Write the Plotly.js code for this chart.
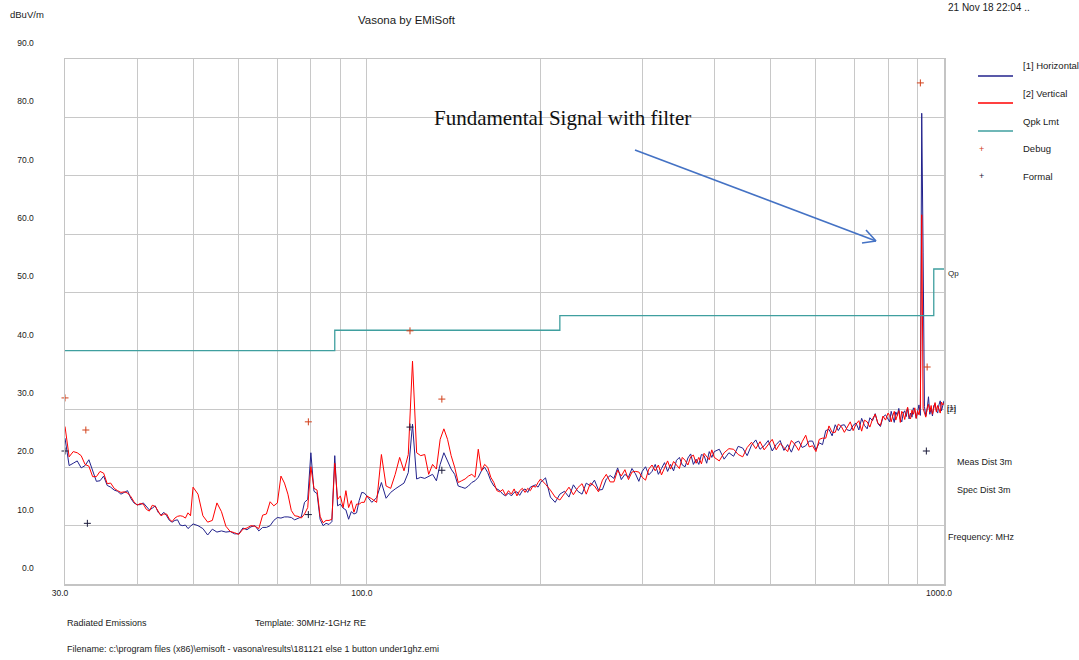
<!DOCTYPE html>
<html>
<head>
<meta charset="utf-8">
<script src="https://cdn.plot.ly/plotly-3.0.1.min.js"></script>
<style>html,body{margin:0;padding:0;background:#fff;}#chart{width:1079px;height:660px;}</style>
</head>
<body>
<div id="chart"></div>
<script>
// ---------------- data ----------------
const freqMHz = [
  30,30.5,31,31.5,32,32.5,33,33.5,34,34.5,35,35.5,36,36.5,37,37.5,38,38.5,39,39.5,
  40,40.5,41,41.5,42,42.5,43,43.5,44,44.5,45,45.5,46,46.5,47,47.5,48,48.5,49,49.5,50,
  51,52,53,54,55,56,57,58,59,60,61,62,63,64,65,66,67,68,69,70,
  71,72,73,74,75,76,77,78,79,80,81,82,83,84,85,86,87,88,89,90,
  91,92,93,94,95,96,97,98,99,100,
  102,104,106,108,110,112,114,116,118,120,122,124,126,128,130,132,134,136,138,140,
  142,144,146,148,150,152,154,156,158,160,162,164,166,168,170,172,174,176,178,180,
  182,184,186,188,190,192,194,196,198,200,
  204,208,212,216,220,224,228,232,236,240,244,248,252,256,260,264,268,272,276,280,
  284,288,292,296,300,304,308,312,316,320,324,328,332,336,340,344,348,352,356,360,
  364,368,372,376,380,384,388,392,396,400,
  408,416,424,432,440,448,456,464,472,480,488,496,504,512,520,528,536,544,552,560,
  568,576,584,592,600,608,616,624,632,640,648,656,664,672,680,688,696,704,712,720,
  728,736,744,752,760,768,776,784,792,800,
  805,810,815,820,825,830,835,840,845,850,855,860,865,870,875,880,885,890,895,900,
  905,910,915,920,925,930,935,940,945,950,955,960,965,970,975,980,985,990,995,1000
];
const horizontalDb = [
  25.0,20.3,20.7,21.1,19.9,20.3,21.3,19.4,17.6,17.7,18.5,16.9,16.6,16.1,15.9,15.4,15.7,16.0,14.7,13.9,
  13.6,13.6,13.9,13.2,12.7,13.0,13.4,12.3,11.8,12.3,11.7,10.9,10.6,10.9,11.0,10.1,10.0,10.1,9.5,9.9,10.3,
  10.0,9.5,8.4,9.4,8.9,9.1,8.9,9.0,8.6,8.6,9.6,9.3,9.8,10.0,9.1,9.7,9.7,10.0,10.9,11.4,
  11.3,11.5,11.5,11.4,11.0,11.3,11.5,14.0,14.5,22.5,15.9,15.5,11.1,10.0,10.4,10.2,10.7,22.0,13.4,13.7,
  13.0,12.7,11.1,12.4,12.0,12.2,14.3,15.7,15.6,15.1,
  14.0,14.8,17.4,14.7,15.7,16.3,16.8,17.3,19.1,27.4,18.0,18.3,18.1,18.5,18.8,17.7,20.5,22.5,21.1,19.7,
  18.8,16.8,16.6,16.4,16.8,17.4,17.7,18.3,19.4,20.0,19.1,17.7,16.8,16.3,16.0,15.4,15.1,15.6,15.1,15.7,
  15.8,15.2,16.0,16.3,15.7,16.6,16.8,17.0,16.6,17.4,
  18.2,14.9,14.0,15.4,15.9,14.9,17.0,15.9,15.4,17.3,16.8,17.8,16.1,16.2,18.0,18.6,18.1,19.9,17.9,18.8,
  18.3,19.8,18.9,17.6,19.3,20.1,18.7,19.3,20.5,18.8,19.8,20.8,19.3,20.5,19.4,21.2,21.7,20.4,20.1,21.6,
  22.3,20.5,21.4,20.5,22.2,22.0,20.7,22.7,21.7,22.7,
  23.1,21.4,22.5,21.9,23.6,23.3,22.0,23.8,24.7,23.1,23.7,24.6,22.8,23.9,24.6,22.9,23.9,22.6,24.2,24.5,
  23.4,23.7,24.5,24.5,23.0,24.2,23.9,26.3,26.5,25.4,27.3,26.3,27.2,27.3,26.4,26.3,27.2,27.6,26.4,28.4,
  27.2,26.6,28.5,28.0,29.2,27.5,27.0,28.6,29.0,28.1,
  27.8,29.6,28.4,27.7,29.5,28.9,30.1,28.3,27.8,29.3,29.7,28.7,30.1,28.3,29.3,28.6,30.2,29.7,28.4,29.9,
  30.7,28.9,80.7,56.9,30.4,28.8,30.0,32.1,29.1,30.1,28.8,30.6,30.9,29.7,29.3,30.7,31.4,29.7,30.6,31.4
];
const verticalDb = [
  27.0,21.8,22.7,22.5,22.0,20.5,20.2,18.4,18.4,19.3,19.0,17.2,17.3,16.4,16.0,15.7,15.8,15.6,15.0,14.1,
  13.5,13.8,13.7,12.8,12.5,13.5,13.3,12.4,11.7,12.0,12.0,11.1,10.7,11.3,11.6,11.7,11.6,11.3,12.2,11.7,16.6,
  15.4,11.7,10.6,10.9,13.9,12.4,9.9,9.0,8.8,8.5,9.4,9.6,10.0,9.9,9.5,11.8,12.0,14.1,13.4,13.9,
  18.5,17.3,15.4,12.6,11.7,11.6,11.3,12.0,13.1,20.1,16.4,16.1,11.6,10.5,10.9,10.9,11.1,20.7,14.5,15.1,
  13.1,16.0,13.1,14.3,12.3,13.7,13.7,14.0,14.0,15.1,
  14.6,14.0,22.2,16.8,16.4,18.8,21.7,19.4,22.2,38.2,22.5,22.0,22.2,18.8,20.5,19.7,24.8,26.6,24.8,22.0,
  20.0,17.4,17.7,18.0,18.5,18.8,18.3,23.1,19.4,20.5,20.0,18.3,17.4,16.0,15.8,16.2,15.2,16.0,15.4,16.3,
  15.1,16.0,16.4,15.7,16.4,16.0,16.8,16.6,17.4,18.0,
  17.1,16.1,14.9,14.4,15.5,16.6,15.3,16.5,17.2,15.4,17.3,16.8,15.8,17.8,18.8,17.5,17.5,19.5,18.5,19.6,
  17.9,19.2,19.3,19.2,18.3,17.8,19.7,20.4,19.4,20.4,18.7,20.0,21.1,19.7,21.0,20.4,19.8,21.7,21.2,20.4,
  21.8,22.1,20.7,21.7,20.6,22.4,21.9,21.3,23.0,21.7,
  21.1,22.5,23.2,23.1,22.2,21.8,23.4,24.3,23.2,24.4,23.0,24.0,24.8,23.0,24.1,23.4,22.7,24.6,23.9,22.9,
  24.4,25.5,23.5,23.7,22.7,24.8,25.0,25.0,27.1,26.0,26.0,27.4,27.0,26.0,27.0,27.8,26.3,27.4,28.0,26.2,
  28.1,27.8,26.9,28.3,29.1,27.6,27.2,28.8,28.1,29.3,
  28.9,27.8,28.8,29.6,28.1,29.1,29.7,27.7,29.6,29.2,28.2,29.5,30.3,28.7,28.3,29.8,29.1,30.2,28.4,29.7,
  29.0,30.5,63.3,30.1,29.1,28.6,30.1,30.8,29.5,30.6,29.1,30.2,31.1,29.5,30.6,30.0,29.3,31.2,30.7,31.0
];
const limitFreq = [30, 88, 88, 216, 216, 960, 960, 1000];
const limitDb   = [40, 40, 43.5, 43.5, 46, 46, 54, 54];
const debugFreq = [30, 32.6, 79.2, 118.8, 134.9, 910, 935];
const debugDb   = [31.9, 26.4, 27.8, 43.4, 31.7, 85.9, 37.2];
const formalFreq = [30, 32.8, 79.2, 118.8, 134.9, 932];
const formalDb   = [22.8, 10.4, 11.9, 26.9, 19.5, 22.8];
const xTickVals = [30,40,50,60,70,80,90,100,200,300,400,500,600,700,800,900,1000];
const xTickText = ["30.0","","","","","","","100.0","","","","","","","","","1000.0"];
const yTickVals = [0,10,20,30,40,50,60,70,80,90];
const yTickText = ["0.0","10.0","20.0","30.0","40.0","50.0","60.0","70.0","80.0","90.0"];
const legendNames = ["[1] Horizontal","[2] Vertical","Qpk Lmt","Debug","Formal"];

// ---------------- styling ----------------
const BLUE = '#22228c', RED = '#ff0000', TEAL = '#3f9f9f', DEBUGC = '#d2401a', FORMALC = '#1a1a3a';
const FONT = 'Liberation Sans, Arial, sans-serif';
const TXT = '#1a1a1a';
const L = 65, R = 944, T = 59, B = 584; // plot box in pixels
const X = px => (px - L) / (R - L);
const Y = py => (B - py) / (B - T);

const traces = [
  {x: freqMHz, y: horizontalDb, type: 'scatter', mode: 'lines', name: legendNames[0],
   line: {color: BLUE, width: 1}},
  {x: freqMHz, y: verticalDb, type: 'scatter', mode: 'lines', name: legendNames[1],
   line: {color: RED, width: 1}},
  {x: limitFreq, y: limitDb, type: 'scatter', mode: 'lines', name: legendNames[2],
   line: {color: TEAL, width: 1.3}},
  {x: debugFreq, y: debugDb, type: 'scatter', mode: 'markers', name: legendNames[3], cliponaxis: false,
   marker: {symbol: 'cross-thin', size: 5, line: {color: DEBUGC, width: 1}}},
  {x: formalFreq, y: formalDb, type: 'scatter', mode: 'markers', name: legendNames[4], cliponaxis: false,
   marker: {symbol: 'cross-thin', size: 5, line: {color: FORMALC, width: 1}}}
];

function txt(text, px, py, size, anchor, extra) {
  return Object.assign({text: text, xref: 'paper', yref: 'paper', x: X(px), y: Y(py),
    xanchor: anchor || 'left', yanchor: 'middle', showarrow: false,
    font: {family: FONT, size: size || 9, color: TXT}}, extra || {});
}

const annotations = [
  txt('dBuV/m', 8, 14, 9.5),
  txt('Vasona by EMiSoft', 407, 20, 11.5, 'center'),
  txt('21 Nov 18 22:04 ..', 946, 7, 10),
  // legend texts
  txt(legendNames[0], 1021, 65, 9.5),
  txt(legendNames[1], 1021, 93, 9.5),
  txt(legendNames[2], 1021, 121, 9.5),
  txt(legendNames[3], 1021, 148, 9.5),
  txt(legendNames[4], 1021, 176, 9.5),
  txt('+', 981, 149, 9, 'center', {font: {family: FONT, size: 9, color: DEBUGC}}),
  txt('+', 981, 176, 9, 'center', {font: {family: FONT, size: 9, color: FORMALC}}),
  // right side notes
  txt('Qp', 946, 273, 8, 'left', {font: {family: FONT, size: 8, color: '#222'}}),
  txt('[1]', 945, 407, 8),
  txt('[2]', 945, 409, 8),
  txt('Meas Dist 3m', 955, 462, 9),
  txt('Spec Dist 3m', 955, 490, 9),
  txt('Frequency: MHz', 946, 537, 9),
  // footer
  txt('Radiated Emissions', 65, 623, 9),
  txt('Template: 30MHz-1GHz RE', 253, 623, 9),
  txt('Filename: c:\\program files (x86)\\emisoft - vasona\\results\\181121 else 1 button under1ghz.emi', 65, 649, 9),
  // callout
  txt('Fundamental Signal with filter', 432, 118, 21, 'left',
      {font: {family: 'Liberation Serif, Times New Roman, serif', size: 21, color: '#111'}})
];

function seg(x0, y0, x1, y1, color, w) {
  return {type: 'line', xref: 'paper', yref: 'paper', x0: X(x0), y0: Y(y0), x1: X(x1), y1: Y(y1),
          line: {color: color, width: w}};
}
const ARROW = '#4472c4';
const shapes = [
  seg(978, 76, 1013, 76, BLUE, 1.5),
  seg(978, 103, 1013, 103, RED, 1.5),
  seg(978, 131, 1013, 131, TEAL, 1.5),
  seg(635, 150, 876, 241, ARROW, 1.6),
  seg(876, 241, 866, 230, ARROW, 1.6),
  seg(876, 241, 862, 243, ARROW, 1.6)
];

const layout = {
  width: 1079, height: 660,
  margin: {l: L, r: 1079 - R, t: T, b: 660 - B, pad: 0},
  paper_bgcolor: '#ffffff', plot_bgcolor: '#ffffff',
  showlegend: false,
  font: {family: FONT, size: 9, color: TXT},
  xaxis: {
    type: 'log', range: [Math.log10(30), 3],
    tickmode: 'array', tickvals: xTickVals, ticktext: xTickText,
    ticks: '', showgrid: true, gridcolor: '#c8c8c8', gridwidth: 1,
    showline: true, mirror: true, linecolor: '#c4c4c4', linewidth: 1.5,
    zeroline: false, tickfont: {family: FONT, size: 8.5, color: TXT},
    ticklabelstandoff: 0, ticklabelshift: -5, automargin: false
  },
  yaxis: {
    range: [0, 90], tickmode: 'array', tickvals: yTickVals, ticktext: yTickText,
    ticks: '', showgrid: true, gridcolor: '#c8c8c8', gridwidth: 1,
    showline: true, mirror: true, linecolor: '#c4c4c4', linewidth: 1.5,
    zeroline: false, tickfont: {family: FONT, size: 8.5, color: TXT},
    ticklabelstandoff: 28, ticklabelshift: -16, automargin: false
  },
  annotations: annotations,
  shapes: shapes
};

Plotly.newPlot('chart', traces, layout, {displayModeBar: false, staticPlot: true});
</script>
</body>
</html>
